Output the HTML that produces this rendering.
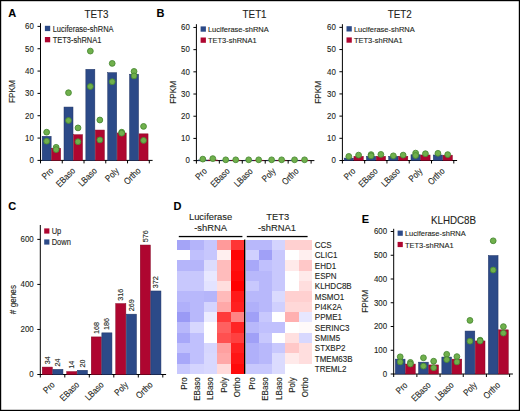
<!DOCTYPE html><html><head><meta charset="utf-8"><style>html,body{margin:0;padding:0;background:#fff;}svg{display:block;font-family:"Liberation Sans", sans-serif;} text{stroke:#231f20;stroke-width:0.12px;paint-order:stroke;}</style></head><body>
<svg width="520" height="411" viewBox="0 0 520 411">
<rect x="0" y="0" width="520" height="411" fill="#fff"/>
<text x="8.3" y="17" font-size="11.66" text-anchor="start" textLength="7.94" lengthAdjust="spacingAndGlyphs" font-weight="bold" fill="#000">A</text>
<text x="96.5" y="17.9" font-size="11.56" text-anchor="middle" textLength="23.96" lengthAdjust="spacingAndGlyphs" fill="#231f20">TET3</text>
<line x1="40.5" y1="23.2" x2="40.5" y2="160.9" stroke="#000" stroke-width="1"/>
<line x1="37.5" y1="160.4" x2="40.5" y2="160.4" stroke="#000" stroke-width="1"/>
<text x="33.9" y="163.2" font-size="9.32" text-anchor="end" textLength="4.39" lengthAdjust="spacingAndGlyphs" fill="#231f20">0</text>
<line x1="37.5" y1="138.07" x2="40.5" y2="138.07" stroke="#000" stroke-width="1"/>
<text x="33.9" y="140.87" font-size="9.32" text-anchor="end" textLength="8.79" lengthAdjust="spacingAndGlyphs" fill="#231f20">10</text>
<line x1="37.5" y1="115.73" x2="40.5" y2="115.73" stroke="#000" stroke-width="1"/>
<text x="33.9" y="118.53" font-size="9.32" text-anchor="end" textLength="8.79" lengthAdjust="spacingAndGlyphs" fill="#231f20">20</text>
<line x1="37.5" y1="93.4" x2="40.5" y2="93.4" stroke="#000" stroke-width="1"/>
<text x="33.9" y="96.2" font-size="9.32" text-anchor="end" textLength="8.79" lengthAdjust="spacingAndGlyphs" fill="#231f20">30</text>
<line x1="37.5" y1="71.07" x2="40.5" y2="71.07" stroke="#000" stroke-width="1"/>
<text x="33.9" y="73.87" font-size="9.32" text-anchor="end" textLength="8.79" lengthAdjust="spacingAndGlyphs" fill="#231f20">40</text>
<line x1="37.5" y1="48.74" x2="40.5" y2="48.74" stroke="#000" stroke-width="1"/>
<text x="33.9" y="51.54" font-size="9.32" text-anchor="end" textLength="8.79" lengthAdjust="spacingAndGlyphs" fill="#231f20">50</text>
<line x1="37.5" y1="26.4" x2="40.5" y2="26.4" stroke="#000" stroke-width="1"/>
<text x="33.9" y="29.2" font-size="9.32" text-anchor="end" textLength="8.79" lengthAdjust="spacingAndGlyphs" fill="#231f20">60</text>
<line x1="40" y1="160.4" x2="152.6" y2="160.4" stroke="#000" stroke-width="1"/>
<line x1="40.5" y1="160.4" x2="40.5" y2="163.4" stroke="#000" stroke-width="1"/>
<line x1="62.26" y1="160.4" x2="62.26" y2="163.4" stroke="#000" stroke-width="1"/>
<line x1="84.02" y1="160.4" x2="84.02" y2="163.4" stroke="#000" stroke-width="1"/>
<line x1="105.78" y1="160.4" x2="105.78" y2="163.4" stroke="#000" stroke-width="1"/>
<line x1="127.54" y1="160.4" x2="127.54" y2="163.4" stroke="#000" stroke-width="1"/>
<line x1="149.3" y1="160.4" x2="149.3" y2="163.4" stroke="#000" stroke-width="1"/>
<rect x="42.15" y="136.31" width="9" height="24.09" fill="#2c4a88" stroke="#1e3364" stroke-width="0.5"/>
<rect x="51.65" y="148.26" width="9" height="12.14" fill="#ae0630" stroke="#860522" stroke-width="0.5"/>
<rect x="64" y="107.05" width="9" height="53.35" fill="#2c4a88" stroke="#1e3364" stroke-width="0.5"/>
<rect x="73.5" y="134.74" width="9" height="25.66" fill="#ae0630" stroke="#860522" stroke-width="0.5"/>
<rect x="85.85" y="69.31" width="9" height="91.09" fill="#2c4a88" stroke="#1e3364" stroke-width="0.5"/>
<rect x="95.35" y="130.05" width="9" height="30.35" fill="#ae0630" stroke="#860522" stroke-width="0.5"/>
<rect x="107.7" y="72.66" width="9" height="87.74" fill="#2c4a88" stroke="#1e3364" stroke-width="0.5"/>
<rect x="117.2" y="132.96" width="9" height="27.44" fill="#ae0630" stroke="#860522" stroke-width="0.5"/>
<rect x="129.55" y="74.22" width="9" height="86.18" fill="#2c4a88" stroke="#1e3364" stroke-width="0.5"/>
<rect x="139.05" y="133.85" width="9" height="26.55" fill="#ae0630" stroke="#860522" stroke-width="0.5"/>
<circle cx="46.65" cy="132.2" r="2.9" fill="#70b04c" stroke="#4a8a34" stroke-width="0.9"/>
<circle cx="46.65" cy="141.2" r="2.9" fill="#70b04c" stroke="#4a8a34" stroke-width="0.9"/>
<circle cx="56.15" cy="147.3" r="2.9" fill="#70b04c" stroke="#4a8a34" stroke-width="0.9"/>
<circle cx="56.15" cy="149.6" r="2.9" fill="#70b04c" stroke="#4a8a34" stroke-width="0.9"/>
<circle cx="68.5" cy="92.7" r="2.9" fill="#70b04c" stroke="#4a8a34" stroke-width="0.9"/>
<circle cx="68.5" cy="120.5" r="2.9" fill="#70b04c" stroke="#4a8a34" stroke-width="0.9"/>
<circle cx="78" cy="127.9" r="2.9" fill="#70b04c" stroke="#4a8a34" stroke-width="0.9"/>
<circle cx="78" cy="141.7" r="2.9" fill="#70b04c" stroke="#4a8a34" stroke-width="0.9"/>
<circle cx="90.35" cy="51.1" r="2.9" fill="#70b04c" stroke="#4a8a34" stroke-width="0.9"/>
<circle cx="90.35" cy="86.5" r="2.9" fill="#70b04c" stroke="#4a8a34" stroke-width="0.9"/>
<circle cx="99.85" cy="120" r="2.9" fill="#70b04c" stroke="#4a8a34" stroke-width="0.9"/>
<circle cx="99.85" cy="139.9" r="2.9" fill="#70b04c" stroke="#4a8a34" stroke-width="0.9"/>
<circle cx="112.2" cy="63.4" r="2.9" fill="#70b04c" stroke="#4a8a34" stroke-width="0.9"/>
<circle cx="112.2" cy="81.7" r="2.9" fill="#70b04c" stroke="#4a8a34" stroke-width="0.9"/>
<circle cx="121.7" cy="132.2" r="2.9" fill="#70b04c" stroke="#4a8a34" stroke-width="0.9"/>
<circle cx="121.7" cy="133.2" r="2.9" fill="#70b04c" stroke="#4a8a34" stroke-width="0.9"/>
<circle cx="134.05" cy="71.4" r="2.9" fill="#70b04c" stroke="#4a8a34" stroke-width="0.9"/>
<circle cx="134.05" cy="75.9" r="2.9" fill="#70b04c" stroke="#4a8a34" stroke-width="0.9"/>
<circle cx="143.55" cy="126.4" r="2.9" fill="#70b04c" stroke="#4a8a34" stroke-width="0.9"/>
<circle cx="143.55" cy="140.4" r="2.9" fill="#70b04c" stroke="#4a8a34" stroke-width="0.9"/>
<rect x="44.9" y="25.8" width="5.3" height="5.3" fill="#2c4a88"/>
<text x="52.7" y="31.5" font-size="8.47" text-anchor="start" textLength="60.86" lengthAdjust="spacingAndGlyphs" fill="#231f20">Luciferase-shRNA</text>
<rect x="44.9" y="37" width="5.3" height="5.3" fill="#ae0630"/>
<text x="52.7" y="42.7" font-size="8.47" text-anchor="start" textLength="48.76" lengthAdjust="spacingAndGlyphs" fill="#231f20">TET3-shRNA1</text>
<text x="14.6" y="91.6" font-size="9.68" text-anchor="middle" textLength="22.78" lengthAdjust="spacingAndGlyphs" transform="rotate(-90 14.6 91.6)" fill="#231f20">FPKM</text>
<text x="54.18" y="171.4" font-size="9.2" text-anchor="end" textLength="12.14" lengthAdjust="spacingAndGlyphs" transform="rotate(-45 54.18 171.4)" fill="#231f20">Pro</text>
<text x="75.94" y="171.4" font-size="9.2" text-anchor="end" textLength="22.98" lengthAdjust="spacingAndGlyphs" transform="rotate(-45 75.94 171.4)" fill="#231f20">EBaso</text>
<text x="97.7" y="171.4" font-size="9.2" text-anchor="end" textLength="22.12" lengthAdjust="spacingAndGlyphs" transform="rotate(-45 97.7 171.4)" fill="#231f20">LBaso</text>
<text x="119.46" y="171.4" font-size="9.2" text-anchor="end" textLength="15.17" lengthAdjust="spacingAndGlyphs" transform="rotate(-45 119.46 171.4)" fill="#231f20">Poly</text>
<text x="141.22" y="171.4" font-size="9.2" text-anchor="end" textLength="19.51" lengthAdjust="spacingAndGlyphs" transform="rotate(-45 141.22 171.4)" fill="#231f20">Ortho</text>
<text x="156.4" y="17" font-size="11.66" text-anchor="start" textLength="7.94" lengthAdjust="spacingAndGlyphs" font-weight="bold" fill="#000">B</text>
<text x="254.6" y="17.7" font-size="11.56" text-anchor="middle" textLength="23.96" lengthAdjust="spacingAndGlyphs" fill="#231f20">TET1</text>
<line x1="196.4" y1="24.2" x2="196.4" y2="161.1" stroke="#000" stroke-width="1"/>
<line x1="193.4" y1="160.6" x2="196.4" y2="160.6" stroke="#000" stroke-width="1"/>
<text x="189.8" y="163.4" font-size="9.32" text-anchor="end" textLength="4.39" lengthAdjust="spacingAndGlyphs" fill="#231f20">0</text>
<line x1="193.4" y1="138.41" x2="196.4" y2="138.41" stroke="#000" stroke-width="1"/>
<text x="189.8" y="141.21" font-size="9.32" text-anchor="end" textLength="8.79" lengthAdjust="spacingAndGlyphs" fill="#231f20">10</text>
<line x1="193.4" y1="116.22" x2="196.4" y2="116.22" stroke="#000" stroke-width="1"/>
<text x="189.8" y="119.02" font-size="9.32" text-anchor="end" textLength="8.79" lengthAdjust="spacingAndGlyphs" fill="#231f20">20</text>
<line x1="193.4" y1="94.03" x2="196.4" y2="94.03" stroke="#000" stroke-width="1"/>
<text x="189.8" y="96.83" font-size="9.32" text-anchor="end" textLength="8.79" lengthAdjust="spacingAndGlyphs" fill="#231f20">30</text>
<line x1="193.4" y1="71.84" x2="196.4" y2="71.84" stroke="#000" stroke-width="1"/>
<text x="189.8" y="74.64" font-size="9.32" text-anchor="end" textLength="8.79" lengthAdjust="spacingAndGlyphs" fill="#231f20">40</text>
<line x1="193.4" y1="49.65" x2="196.4" y2="49.65" stroke="#000" stroke-width="1"/>
<text x="189.8" y="52.45" font-size="9.32" text-anchor="end" textLength="8.79" lengthAdjust="spacingAndGlyphs" fill="#231f20">50</text>
<line x1="193.4" y1="27.46" x2="196.4" y2="27.46" stroke="#000" stroke-width="1"/>
<text x="189.8" y="30.26" font-size="9.32" text-anchor="end" textLength="8.79" lengthAdjust="spacingAndGlyphs" fill="#231f20">60</text>
<line x1="195.9" y1="160.6" x2="314.4" y2="160.6" stroke="#000" stroke-width="1"/>
<line x1="196.4" y1="160.6" x2="196.4" y2="163.6" stroke="#000" stroke-width="1"/>
<line x1="219.34" y1="160.6" x2="219.34" y2="163.6" stroke="#000" stroke-width="1"/>
<line x1="242.28" y1="160.6" x2="242.28" y2="163.6" stroke="#000" stroke-width="1"/>
<line x1="265.22" y1="160.6" x2="265.22" y2="163.6" stroke="#000" stroke-width="1"/>
<line x1="288.16" y1="160.6" x2="288.16" y2="163.6" stroke="#000" stroke-width="1"/>
<line x1="311.1" y1="160.6" x2="311.1" y2="163.6" stroke="#000" stroke-width="1"/>
<rect x="198.05" y="159.96" width="9.5" height="0.64" fill="#2c4a88" stroke="#1e3364" stroke-width="0.5"/>
<rect x="208.05" y="159.96" width="9.5" height="0.64" fill="#ae0630" stroke="#860522" stroke-width="0.5"/>
<rect x="220.99" y="160.18" width="9.5" height="0.42" fill="#2c4a88" stroke="#1e3364" stroke-width="0.5"/>
<rect x="230.99" y="160.18" width="9.5" height="0.42" fill="#ae0630" stroke="#860522" stroke-width="0.5"/>
<rect x="243.93" y="160.18" width="9.5" height="0.42" fill="#2c4a88" stroke="#1e3364" stroke-width="0.5"/>
<rect x="253.93" y="160.18" width="9.5" height="0.42" fill="#ae0630" stroke="#860522" stroke-width="0.5"/>
<rect x="266.87" y="160.18" width="9.5" height="0.42" fill="#2c4a88" stroke="#1e3364" stroke-width="0.5"/>
<rect x="276.87" y="160.18" width="9.5" height="0.42" fill="#ae0630" stroke="#860522" stroke-width="0.5"/>
<rect x="289.81" y="160.18" width="9.5" height="0.42" fill="#2c4a88" stroke="#1e3364" stroke-width="0.5"/>
<rect x="299.81" y="160.18" width="9.5" height="0.42" fill="#ae0630" stroke="#860522" stroke-width="0.5"/>
<circle cx="202.8" cy="159.1" r="2.9" fill="#70b04c" stroke="#4a8a34" stroke-width="0.9"/>
<circle cx="212.8" cy="158.6" r="2.9" fill="#70b04c" stroke="#4a8a34" stroke-width="0.9"/>
<circle cx="225.74" cy="159.8" r="2.9" fill="#70b04c" stroke="#4a8a34" stroke-width="0.9"/>
<circle cx="235.74" cy="159.8" r="2.9" fill="#70b04c" stroke="#4a8a34" stroke-width="0.9"/>
<circle cx="248.68" cy="159.8" r="2.9" fill="#70b04c" stroke="#4a8a34" stroke-width="0.9"/>
<circle cx="258.68" cy="159.8" r="2.9" fill="#70b04c" stroke="#4a8a34" stroke-width="0.9"/>
<circle cx="271.62" cy="159.8" r="2.9" fill="#70b04c" stroke="#4a8a34" stroke-width="0.9"/>
<circle cx="281.62" cy="159.8" r="2.9" fill="#70b04c" stroke="#4a8a34" stroke-width="0.9"/>
<circle cx="294.56" cy="159.8" r="2.9" fill="#70b04c" stroke="#4a8a34" stroke-width="0.9"/>
<circle cx="304.56" cy="159.8" r="2.9" fill="#70b04c" stroke="#4a8a34" stroke-width="0.9"/>
<rect x="200.6" y="26.4" width="5.3" height="5.3" fill="#2c4a88"/>
<text x="207.9" y="32.1" font-size="7.65" text-anchor="start" textLength="60.86" lengthAdjust="spacingAndGlyphs" fill="#231f20">Luciferase-shRNA</text>
<rect x="200.6" y="37.5" width="5.3" height="5.3" fill="#ae0630"/>
<text x="207.9" y="43.2" font-size="7.65" text-anchor="start" textLength="48.76" lengthAdjust="spacingAndGlyphs" fill="#231f20">TET3-shRNA1</text>
<text x="175.6" y="92.3" font-size="9.68" text-anchor="middle" textLength="22.78" lengthAdjust="spacingAndGlyphs" transform="rotate(-90 175.6 92.3)" fill="#231f20">FPKM</text>
<text x="207.47" y="171.8" font-size="9.2" text-anchor="end" textLength="12.14" lengthAdjust="spacingAndGlyphs" transform="rotate(-45 207.47 171.8)" fill="#231f20">Pro</text>
<text x="230.41" y="171.8" font-size="9.2" text-anchor="end" textLength="22.98" lengthAdjust="spacingAndGlyphs" transform="rotate(-45 230.41 171.8)" fill="#231f20">EBaso</text>
<text x="253.35" y="171.8" font-size="9.2" text-anchor="end" textLength="22.12" lengthAdjust="spacingAndGlyphs" transform="rotate(-45 253.35 171.8)" fill="#231f20">LBaso</text>
<text x="276.29" y="171.8" font-size="9.2" text-anchor="end" textLength="15.17" lengthAdjust="spacingAndGlyphs" transform="rotate(-45 276.29 171.8)" fill="#231f20">Poly</text>
<text x="299.23" y="171.8" font-size="9.2" text-anchor="end" textLength="19.51" lengthAdjust="spacingAndGlyphs" transform="rotate(-45 299.23 171.8)" fill="#231f20">Ortho</text>
<text x="399.8" y="18" font-size="11.56" text-anchor="middle" textLength="23.96" lengthAdjust="spacingAndGlyphs" fill="#231f20">TET2</text>
<line x1="342.4" y1="24.2" x2="342.4" y2="161" stroke="#000" stroke-width="1"/>
<line x1="339.4" y1="160.5" x2="342.4" y2="160.5" stroke="#000" stroke-width="1"/>
<text x="335.8" y="163.3" font-size="9.32" text-anchor="end" textLength="4.39" lengthAdjust="spacingAndGlyphs" fill="#231f20">0</text>
<line x1="339.4" y1="138.31" x2="342.4" y2="138.31" stroke="#000" stroke-width="1"/>
<text x="335.8" y="141.11" font-size="9.32" text-anchor="end" textLength="8.79" lengthAdjust="spacingAndGlyphs" fill="#231f20">10</text>
<line x1="339.4" y1="116.12" x2="342.4" y2="116.12" stroke="#000" stroke-width="1"/>
<text x="335.8" y="118.92" font-size="9.32" text-anchor="end" textLength="8.79" lengthAdjust="spacingAndGlyphs" fill="#231f20">20</text>
<line x1="339.4" y1="93.93" x2="342.4" y2="93.93" stroke="#000" stroke-width="1"/>
<text x="335.8" y="96.73" font-size="9.32" text-anchor="end" textLength="8.79" lengthAdjust="spacingAndGlyphs" fill="#231f20">30</text>
<line x1="339.4" y1="71.74" x2="342.4" y2="71.74" stroke="#000" stroke-width="1"/>
<text x="335.8" y="74.54" font-size="9.32" text-anchor="end" textLength="8.79" lengthAdjust="spacingAndGlyphs" fill="#231f20">40</text>
<line x1="339.4" y1="49.55" x2="342.4" y2="49.55" stroke="#000" stroke-width="1"/>
<text x="335.8" y="52.35" font-size="9.32" text-anchor="end" textLength="8.79" lengthAdjust="spacingAndGlyphs" fill="#231f20">50</text>
<line x1="339.4" y1="27.36" x2="342.4" y2="27.36" stroke="#000" stroke-width="1"/>
<text x="335.8" y="30.16" font-size="9.32" text-anchor="end" textLength="8.79" lengthAdjust="spacingAndGlyphs" fill="#231f20">60</text>
<line x1="341.9" y1="160.5" x2="457.1" y2="160.5" stroke="#000" stroke-width="1"/>
<line x1="342.4" y1="160.5" x2="342.4" y2="163.5" stroke="#000" stroke-width="1"/>
<line x1="364.68" y1="160.5" x2="364.68" y2="163.5" stroke="#000" stroke-width="1"/>
<line x1="386.96" y1="160.5" x2="386.96" y2="163.5" stroke="#000" stroke-width="1"/>
<line x1="409.24" y1="160.5" x2="409.24" y2="163.5" stroke="#000" stroke-width="1"/>
<line x1="431.52" y1="160.5" x2="431.52" y2="163.5" stroke="#000" stroke-width="1"/>
<line x1="453.8" y1="160.5" x2="453.8" y2="163.5" stroke="#000" stroke-width="1"/>
<rect x="344.15" y="158.09" width="9.3" height="2.41" fill="#2c4a88" stroke="#1e3364" stroke-width="0.5"/>
<rect x="353.95" y="156.31" width="9.3" height="4.19" fill="#ae0630" stroke="#860522" stroke-width="0.5"/>
<rect x="366.43" y="156.31" width="9.3" height="4.19" fill="#2c4a88" stroke="#1e3364" stroke-width="0.5"/>
<rect x="376.23" y="156.31" width="9.3" height="4.19" fill="#ae0630" stroke="#860522" stroke-width="0.5"/>
<rect x="388.71" y="156.31" width="9.3" height="4.19" fill="#2c4a88" stroke="#1e3364" stroke-width="0.5"/>
<rect x="398.51" y="156.31" width="9.3" height="4.19" fill="#ae0630" stroke="#860522" stroke-width="0.5"/>
<rect x="410.99" y="154.76" width="9.3" height="5.74" fill="#2c4a88" stroke="#1e3364" stroke-width="0.5"/>
<rect x="420.79" y="154.98" width="9.3" height="5.52" fill="#ae0630" stroke="#860522" stroke-width="0.5"/>
<rect x="433.27" y="154.98" width="9.3" height="5.52" fill="#2c4a88" stroke="#1e3364" stroke-width="0.5"/>
<rect x="443.07" y="155.2" width="9.3" height="5.3" fill="#ae0630" stroke="#860522" stroke-width="0.5"/>
<circle cx="348.8" cy="156.4" r="2.9" fill="#70b04c" stroke="#4a8a34" stroke-width="0.9"/>
<circle cx="358.6" cy="155.1" r="2.9" fill="#70b04c" stroke="#4a8a34" stroke-width="0.9"/>
<circle cx="371.08" cy="154.6" r="2.9" fill="#70b04c" stroke="#4a8a34" stroke-width="0.9"/>
<circle cx="371.08" cy="155.8" r="2.9" fill="#70b04c" stroke="#4a8a34" stroke-width="0.9"/>
<circle cx="380.88" cy="154.4" r="2.9" fill="#70b04c" stroke="#4a8a34" stroke-width="0.9"/>
<circle cx="393.36" cy="155.8" r="2.9" fill="#70b04c" stroke="#4a8a34" stroke-width="0.9"/>
<circle cx="403.16" cy="155.1" r="2.9" fill="#70b04c" stroke="#4a8a34" stroke-width="0.9"/>
<circle cx="415.64" cy="153.1" r="2.9" fill="#70b04c" stroke="#4a8a34" stroke-width="0.9"/>
<circle cx="415.64" cy="155.5" r="2.9" fill="#70b04c" stroke="#4a8a34" stroke-width="0.9"/>
<circle cx="425.44" cy="153.7" r="2.9" fill="#70b04c" stroke="#4a8a34" stroke-width="0.9"/>
<circle cx="437.92" cy="153.3" r="2.9" fill="#70b04c" stroke="#4a8a34" stroke-width="0.9"/>
<circle cx="447.72" cy="154.6" r="2.9" fill="#70b04c" stroke="#4a8a34" stroke-width="0.9"/>
<rect x="346.5" y="26.2" width="5.3" height="5.3" fill="#2c4a88"/>
<text x="353.9" y="31.9" font-size="7.88" text-anchor="start" textLength="60.86" lengthAdjust="spacingAndGlyphs" fill="#231f20">Luciferase-shRNA</text>
<rect x="346.5" y="37.4" width="5.3" height="5.3" fill="#ae0630"/>
<text x="353.9" y="43.1" font-size="7.88" text-anchor="start" textLength="48.76" lengthAdjust="spacingAndGlyphs" fill="#231f20">TET3-shRNA1</text>
<text x="321.2" y="92.3" font-size="9.68" text-anchor="middle" textLength="22.78" lengthAdjust="spacingAndGlyphs" transform="rotate(-90 321.2 92.3)" fill="#231f20">FPKM</text>
<text x="356.14" y="171.8" font-size="9.2" text-anchor="end" textLength="12.14" lengthAdjust="spacingAndGlyphs" transform="rotate(-45 356.14 171.8)" fill="#231f20">Pro</text>
<text x="378.42" y="171.8" font-size="9.2" text-anchor="end" textLength="22.98" lengthAdjust="spacingAndGlyphs" transform="rotate(-45 378.42 171.8)" fill="#231f20">EBaso</text>
<text x="400.7" y="171.8" font-size="9.2" text-anchor="end" textLength="22.12" lengthAdjust="spacingAndGlyphs" transform="rotate(-45 400.7 171.8)" fill="#231f20">LBaso</text>
<text x="422.98" y="171.8" font-size="9.2" text-anchor="end" textLength="15.17" lengthAdjust="spacingAndGlyphs" transform="rotate(-45 422.98 171.8)" fill="#231f20">Poly</text>
<text x="445.26" y="171.8" font-size="9.2" text-anchor="end" textLength="19.51" lengthAdjust="spacingAndGlyphs" transform="rotate(-45 445.26 171.8)" fill="#231f20">Ortho</text>
<text x="8.3" y="209.5" font-size="11.66" text-anchor="start" textLength="7.94" lengthAdjust="spacingAndGlyphs" font-weight="bold" fill="#000">C</text>
<line x1="40.3" y1="225" x2="40.3" y2="375" stroke="#000" stroke-width="1"/>
<line x1="37.3" y1="374.5" x2="40.3" y2="374.5" stroke="#000" stroke-width="1"/>
<text x="33.7" y="377.3" font-size="9.32" text-anchor="end" textLength="4.39" lengthAdjust="spacingAndGlyphs" fill="#231f20">0</text>
<line x1="37.3" y1="329.46" x2="40.3" y2="329.46" stroke="#000" stroke-width="1"/>
<text x="33.7" y="332.26" font-size="9.32" text-anchor="end" textLength="13.18" lengthAdjust="spacingAndGlyphs" fill="#231f20">200</text>
<line x1="37.3" y1="284.42" x2="40.3" y2="284.42" stroke="#000" stroke-width="1"/>
<text x="33.7" y="287.22" font-size="9.32" text-anchor="end" textLength="13.18" lengthAdjust="spacingAndGlyphs" fill="#231f20">400</text>
<line x1="37.3" y1="239.38" x2="40.3" y2="239.38" stroke="#000" stroke-width="1"/>
<text x="33.7" y="242.18" font-size="9.32" text-anchor="end" textLength="13.18" lengthAdjust="spacingAndGlyphs" fill="#231f20">600</text>
<line x1="39.8" y1="374.5" x2="166.1" y2="374.5" stroke="#000" stroke-width="1"/>
<line x1="40.3" y1="374.5" x2="40.3" y2="377.5" stroke="#000" stroke-width="1"/>
<line x1="64.8" y1="374.5" x2="64.8" y2="377.5" stroke="#000" stroke-width="1"/>
<line x1="89.3" y1="374.5" x2="89.3" y2="377.5" stroke="#000" stroke-width="1"/>
<line x1="113.8" y1="374.5" x2="113.8" y2="377.5" stroke="#000" stroke-width="1"/>
<line x1="138.3" y1="374.5" x2="138.3" y2="377.5" stroke="#000" stroke-width="1"/>
<line x1="162.8" y1="374.5" x2="162.8" y2="377.5" stroke="#000" stroke-width="1"/>
<rect x="42.25" y="367.09" width="10.1" height="7.41" fill="#ae0630" stroke="#860522" stroke-width="0.5"/>
<rect x="52.85" y="369.35" width="10.1" height="5.15" fill="#2c4a88" stroke="#1e3364" stroke-width="0.5"/>
<text x="49.8" y="364.24" font-size="7.2" text-anchor="start" textLength="8.01" lengthAdjust="spacingAndGlyphs" transform="rotate(-90 49.8 364.24)" fill="#231f20">34</text>
<text x="60.4" y="366.5" font-size="7.2" text-anchor="start" textLength="8.01" lengthAdjust="spacingAndGlyphs" transform="rotate(-90 60.4 366.5)" fill="#231f20">24</text>
<rect x="66.75" y="371.6" width="10.1" height="2.9" fill="#ae0630" stroke="#860522" stroke-width="0.5"/>
<rect x="77.35" y="370.25" width="10.1" height="4.25" fill="#2c4a88" stroke="#1e3364" stroke-width="0.5"/>
<text x="74.3" y="368.75" font-size="7.2" text-anchor="start" textLength="8.01" lengthAdjust="spacingAndGlyphs" transform="rotate(-90 74.3 368.75)" fill="#231f20">14</text>
<text x="84.9" y="367.4" font-size="7.2" text-anchor="start" textLength="8.01" lengthAdjust="spacingAndGlyphs" transform="rotate(-90 84.9 367.4)" fill="#231f20">20</text>
<rect x="91.25" y="336.92" width="10.1" height="37.58" fill="#ae0630" stroke="#860522" stroke-width="0.5"/>
<rect x="101.85" y="332.86" width="10.1" height="41.64" fill="#2c4a88" stroke="#1e3364" stroke-width="0.5"/>
<text x="98.8" y="334.07" font-size="7.2" text-anchor="start" textLength="12.01" lengthAdjust="spacingAndGlyphs" transform="rotate(-90 98.8 334.07)" fill="#231f20">168</text>
<text x="109.4" y="330.01" font-size="7.2" text-anchor="start" textLength="12.01" lengthAdjust="spacingAndGlyphs" transform="rotate(-90 109.4 330.01)" fill="#231f20">186</text>
<rect x="115.75" y="303.59" width="10.1" height="70.91" fill="#ae0630" stroke="#860522" stroke-width="0.5"/>
<rect x="126.35" y="314.17" width="10.1" height="60.33" fill="#2c4a88" stroke="#1e3364" stroke-width="0.5"/>
<text x="123.3" y="300.74" font-size="7.2" text-anchor="start" textLength="12.01" lengthAdjust="spacingAndGlyphs" transform="rotate(-90 123.3 300.74)" fill="#231f20">316</text>
<text x="133.9" y="311.32" font-size="7.2" text-anchor="start" textLength="12.01" lengthAdjust="spacingAndGlyphs" transform="rotate(-90 133.9 311.32)" fill="#231f20">269</text>
<rect x="140.25" y="245.03" width="10.1" height="129.47" fill="#ae0630" stroke="#860522" stroke-width="0.5"/>
<rect x="150.85" y="290.98" width="10.1" height="83.52" fill="#2c4a88" stroke="#1e3364" stroke-width="0.5"/>
<text x="147.8" y="242.18" font-size="7.2" text-anchor="start" textLength="12.01" lengthAdjust="spacingAndGlyphs" transform="rotate(-90 147.8 242.18)" fill="#231f20">576</text>
<text x="158.4" y="288.13" font-size="7.2" text-anchor="start" textLength="12.01" lengthAdjust="spacingAndGlyphs" transform="rotate(-90 158.4 288.13)" fill="#231f20">372</text>
<rect x="44.2" y="228.4" width="5.2" height="5.2" fill="#ae0630"/>
<text x="51.7" y="234.1" font-size="8.85" text-anchor="start" textLength="9.59" lengthAdjust="spacingAndGlyphs" fill="#231f20">Up</text>
<rect x="44.2" y="239.4" width="5.2" height="5.2" fill="#2c4a88"/>
<text x="51.7" y="245.1" font-size="8.85" text-anchor="start" textLength="19.18" lengthAdjust="spacingAndGlyphs" fill="#231f20">Down</text>
<text x="15.8" y="299.6" font-size="9.68" text-anchor="middle" textLength="29.18" lengthAdjust="spacingAndGlyphs" transform="rotate(-90 15.8 299.6)" fill="#231f20"># genes</text>
<text x="55.35" y="385.4" font-size="9.2" text-anchor="end" textLength="12.14" lengthAdjust="spacingAndGlyphs" transform="rotate(-45 55.35 385.4)" fill="#231f20">Pro</text>
<text x="79.85" y="385.4" font-size="9.2" text-anchor="end" textLength="22.98" lengthAdjust="spacingAndGlyphs" transform="rotate(-45 79.85 385.4)" fill="#231f20">EBaso</text>
<text x="104.35" y="385.4" font-size="9.2" text-anchor="end" textLength="22.12" lengthAdjust="spacingAndGlyphs" transform="rotate(-45 104.35 385.4)" fill="#231f20">LBaso</text>
<text x="128.85" y="385.4" font-size="9.2" text-anchor="end" textLength="15.17" lengthAdjust="spacingAndGlyphs" transform="rotate(-45 128.85 385.4)" fill="#231f20">Poly</text>
<text x="153.35" y="385.4" font-size="9.2" text-anchor="end" textLength="19.51" lengthAdjust="spacingAndGlyphs" transform="rotate(-45 153.35 385.4)" fill="#231f20">Ortho</text>
<text x="173.5" y="209.5" font-size="11.66" text-anchor="start" textLength="7.94" lengthAdjust="spacingAndGlyphs" font-weight="bold" fill="#000">D</text>
<text x="210.6" y="220.3" font-size="9.96" text-anchor="middle" textLength="43.37" lengthAdjust="spacingAndGlyphs" fill="#231f20">Luciferase</text>
<text x="210.6" y="231.4" font-size="9.96" text-anchor="middle" textLength="32.91" lengthAdjust="spacingAndGlyphs" fill="#231f20">-shRNA</text>
<text x="277.7" y="220.3" font-size="9.96" text-anchor="middle" textLength="22.98" lengthAdjust="spacingAndGlyphs" fill="#231f20">TET3</text>
<text x="277" y="231.4" font-size="9.96" text-anchor="middle" textLength="38.13" lengthAdjust="spacingAndGlyphs" fill="#231f20">-shRNA1</text>
<rect x="178.8" y="235.9" width="63.6" height="1.3" fill="#000"/>
<rect x="246.8" y="235.9" width="60.8" height="1.3" fill="#000"/>
<g shape-rendering="crispEdges">
<rect x="176.9" y="239.6" width="13.49" height="10.38" fill="#a4a4f7"/>
<rect x="245.5" y="239.6" width="13.35" height="10.38" fill="#b8b8fb"/>
<rect x="190.34" y="239.6" width="13.49" height="10.38" fill="#b4b4fa"/>
<rect x="258.8" y="239.6" width="13.35" height="10.38" fill="#b8b8fb"/>
<rect x="203.78" y="239.6" width="13.49" height="10.38" fill="#c6c6fd"/>
<rect x="272.1" y="239.6" width="13.35" height="10.38" fill="#d4d4fe"/>
<rect x="217.22" y="239.6" width="13.49" height="10.38" fill="#ff9a9a"/>
<rect x="285.4" y="239.6" width="13.35" height="10.38" fill="#ffd0d0"/>
<rect x="230.66" y="239.6" width="13.49" height="10.38" fill="#ff3535"/>
<rect x="298.7" y="239.6" width="13.35" height="10.38" fill="#ffd0d0"/>
<rect x="176.9" y="249.93" width="13.49" height="10.38" fill="#ffffff"/>
<rect x="245.5" y="249.93" width="13.35" height="10.38" fill="#d0d0fe"/>
<rect x="190.34" y="249.93" width="13.49" height="10.38" fill="#c0c0fd"/>
<rect x="258.8" y="249.93" width="13.35" height="10.38" fill="#a0a0f7"/>
<rect x="203.78" y="249.93" width="13.49" height="10.38" fill="#c7c7fd"/>
<rect x="272.1" y="249.93" width="13.35" height="10.38" fill="#c8c8fd"/>
<rect x="217.22" y="249.93" width="13.49" height="10.38" fill="#ffefef"/>
<rect x="285.4" y="249.93" width="13.35" height="10.38" fill="#ffffff"/>
<rect x="230.66" y="249.93" width="13.49" height="10.38" fill="#ff0505"/>
<rect x="298.7" y="249.93" width="13.35" height="10.38" fill="#ffefef"/>
<rect x="176.9" y="260.26" width="13.49" height="10.38" fill="#b5b5fa"/>
<rect x="245.5" y="260.26" width="13.35" height="10.38" fill="#a8a8f9"/>
<rect x="190.34" y="260.26" width="13.49" height="10.38" fill="#b5b5fa"/>
<rect x="258.8" y="260.26" width="13.35" height="10.38" fill="#c0c0fd"/>
<rect x="203.78" y="260.26" width="13.49" height="10.38" fill="#dcdcfd"/>
<rect x="272.1" y="260.26" width="13.35" height="10.38" fill="#c8c8fd"/>
<rect x="217.22" y="260.26" width="13.49" height="10.38" fill="#ffbcbc"/>
<rect x="285.4" y="260.26" width="13.35" height="10.38" fill="#ffeaea"/>
<rect x="230.66" y="260.26" width="13.49" height="10.38" fill="#ff1010"/>
<rect x="298.7" y="260.26" width="13.35" height="10.38" fill="#ffc8c8"/>
<rect x="176.9" y="270.59" width="13.49" height="10.38" fill="#c8c8fd"/>
<rect x="245.5" y="270.59" width="13.35" height="10.38" fill="#b8b8fb"/>
<rect x="190.34" y="270.59" width="13.49" height="10.38" fill="#c8c8fd"/>
<rect x="258.8" y="270.59" width="13.35" height="10.38" fill="#b8b8fb"/>
<rect x="203.78" y="270.59" width="13.49" height="10.38" fill="#e8e8ff"/>
<rect x="272.1" y="270.59" width="13.35" height="10.38" fill="#c8c8fd"/>
<rect x="217.22" y="270.59" width="13.49" height="10.38" fill="#ffbcbc"/>
<rect x="285.4" y="270.59" width="13.35" height="10.38" fill="#ffffff"/>
<rect x="230.66" y="270.59" width="13.49" height="10.38" fill="#ff0a0a"/>
<rect x="298.7" y="270.59" width="13.35" height="10.38" fill="#ffeaea"/>
<rect x="176.9" y="280.92" width="13.49" height="10.38" fill="#c8c8fd"/>
<rect x="245.5" y="280.92" width="13.35" height="10.38" fill="#c8c8fd"/>
<rect x="190.34" y="280.92" width="13.49" height="10.38" fill="#c8c8fd"/>
<rect x="258.8" y="280.92" width="13.35" height="10.38" fill="#b8b8fb"/>
<rect x="203.78" y="280.92" width="13.49" height="10.38" fill="#e3e3ff"/>
<rect x="272.1" y="280.92" width="13.35" height="10.38" fill="#c8c8fd"/>
<rect x="217.22" y="280.92" width="13.49" height="10.38" fill="#ffdede"/>
<rect x="285.4" y="280.92" width="13.35" height="10.38" fill="#ffffff"/>
<rect x="230.66" y="280.92" width="13.49" height="10.38" fill="#ff0000"/>
<rect x="298.7" y="280.92" width="13.35" height="10.38" fill="#ffdede"/>
<rect x="176.9" y="291.25" width="13.49" height="10.38" fill="#b8b8fb"/>
<rect x="245.5" y="291.25" width="13.35" height="10.38" fill="#b8b8fb"/>
<rect x="190.34" y="291.25" width="13.49" height="10.38" fill="#b8b8fb"/>
<rect x="258.8" y="291.25" width="13.35" height="10.38" fill="#b8b8fb"/>
<rect x="203.78" y="291.25" width="13.49" height="10.38" fill="#b5b5fa"/>
<rect x="272.1" y="291.25" width="13.35" height="10.38" fill="#dadafe"/>
<rect x="217.22" y="291.25" width="13.49" height="10.38" fill="#ffbaba"/>
<rect x="285.4" y="291.25" width="13.35" height="10.38" fill="#ffd0d0"/>
<rect x="230.66" y="291.25" width="13.49" height="10.38" fill="#ff1a1a"/>
<rect x="298.7" y="291.25" width="13.35" height="10.38" fill="#ffd0d0"/>
<rect x="176.9" y="301.58" width="13.49" height="10.38" fill="#b0b0fa"/>
<rect x="245.5" y="301.58" width="13.35" height="10.38" fill="#b0b0fa"/>
<rect x="190.34" y="301.58" width="13.49" height="10.38" fill="#b8b8fb"/>
<rect x="258.8" y="301.58" width="13.35" height="10.38" fill="#b8b8fb"/>
<rect x="203.78" y="301.58" width="13.49" height="10.38" fill="#d4d4fe"/>
<rect x="272.1" y="301.58" width="13.35" height="10.38" fill="#d0d0fe"/>
<rect x="217.22" y="301.58" width="13.49" height="10.38" fill="#ffa8a8"/>
<rect x="285.4" y="301.58" width="13.35" height="10.38" fill="#ffd8d8"/>
<rect x="230.66" y="301.58" width="13.49" height="10.38" fill="#ff2020"/>
<rect x="298.7" y="301.58" width="13.35" height="10.38" fill="#ffd8d8"/>
<rect x="176.9" y="311.92" width="13.49" height="10.38" fill="#9a9af5"/>
<rect x="245.5" y="311.92" width="13.35" height="10.38" fill="#a0a0f7"/>
<rect x="190.34" y="311.92" width="13.49" height="10.38" fill="#b8b8fb"/>
<rect x="258.8" y="311.92" width="13.35" height="10.38" fill="#c8c8fd"/>
<rect x="203.78" y="311.92" width="13.49" height="10.38" fill="#ececff"/>
<rect x="272.1" y="311.92" width="13.35" height="10.38" fill="#ffffff"/>
<rect x="217.22" y="311.92" width="13.49" height="10.38" fill="#ff3a3a"/>
<rect x="285.4" y="311.92" width="13.35" height="10.38" fill="#ffb0b0"/>
<rect x="230.66" y="311.92" width="13.49" height="10.38" fill="#ff8484"/>
<rect x="298.7" y="311.92" width="13.35" height="10.38" fill="#e7e7ff"/>
<rect x="176.9" y="322.25" width="13.49" height="10.38" fill="#b8b8fb"/>
<rect x="245.5" y="322.25" width="13.35" height="10.38" fill="#b8b8fb"/>
<rect x="190.34" y="322.25" width="13.49" height="10.38" fill="#d7d7fe"/>
<rect x="258.8" y="322.25" width="13.35" height="10.38" fill="#c0c0fd"/>
<rect x="203.78" y="322.25" width="13.49" height="10.38" fill="#ffffff"/>
<rect x="272.1" y="322.25" width="13.35" height="10.38" fill="#c0c0fd"/>
<rect x="217.22" y="322.25" width="13.49" height="10.38" fill="#ff6060"/>
<rect x="285.4" y="322.25" width="13.35" height="10.38" fill="#ffffff"/>
<rect x="230.66" y="322.25" width="13.49" height="10.38" fill="#ff2525"/>
<rect x="298.7" y="322.25" width="13.35" height="10.38" fill="#fffafa"/>
<rect x="176.9" y="332.58" width="13.49" height="10.38" fill="#a8a8f9"/>
<rect x="245.5" y="332.58" width="13.35" height="10.38" fill="#a0a0f7"/>
<rect x="190.34" y="332.58" width="13.49" height="10.38" fill="#c0c0fd"/>
<rect x="258.8" y="332.58" width="13.35" height="10.38" fill="#c8c8fd"/>
<rect x="203.78" y="332.58" width="13.49" height="10.38" fill="#ffffff"/>
<rect x="272.1" y="332.58" width="13.35" height="10.38" fill="#ffffff"/>
<rect x="217.22" y="332.58" width="13.49" height="10.38" fill="#ff5050"/>
<rect x="285.4" y="332.58" width="13.35" height="10.38" fill="#ffe0e0"/>
<rect x="230.66" y="332.58" width="13.49" height="10.38" fill="#ff4040"/>
<rect x="298.7" y="332.58" width="13.35" height="10.38" fill="#d8d8fe"/>
<rect x="176.9" y="342.91" width="13.49" height="10.38" fill="#c0c0fd"/>
<rect x="245.5" y="342.91" width="13.35" height="10.38" fill="#b0b0fa"/>
<rect x="190.34" y="342.91" width="13.49" height="10.38" fill="#c0c0fd"/>
<rect x="258.8" y="342.91" width="13.35" height="10.38" fill="#b8b8fb"/>
<rect x="203.78" y="342.91" width="13.49" height="10.38" fill="#d6d6fe"/>
<rect x="272.1" y="342.91" width="13.35" height="10.38" fill="#c8c8fd"/>
<rect x="217.22" y="342.91" width="13.49" height="10.38" fill="#ffa0a0"/>
<rect x="285.4" y="342.91" width="13.35" height="10.38" fill="#ffc8c8"/>
<rect x="230.66" y="342.91" width="13.49" height="10.38" fill="#ff2020"/>
<rect x="298.7" y="342.91" width="13.35" height="10.38" fill="#ffdede"/>
<rect x="176.9" y="353.24" width="13.49" height="10.38" fill="#a8a8f9"/>
<rect x="245.5" y="353.24" width="13.35" height="10.38" fill="#b0b0fa"/>
<rect x="190.34" y="353.24" width="13.49" height="10.38" fill="#c0c0fd"/>
<rect x="258.8" y="353.24" width="13.35" height="10.38" fill="#b8b8fb"/>
<rect x="203.78" y="353.24" width="13.49" height="10.38" fill="#d8d8fe"/>
<rect x="272.1" y="353.24" width="13.35" height="10.38" fill="#dbdbfe"/>
<rect x="217.22" y="353.24" width="13.49" height="10.38" fill="#ffa8a8"/>
<rect x="285.4" y="353.24" width="13.35" height="10.38" fill="#ffeaea"/>
<rect x="230.66" y="353.24" width="13.49" height="10.38" fill="#ff1515"/>
<rect x="298.7" y="353.24" width="13.35" height="10.38" fill="#ffdede"/>
<rect x="176.9" y="363.57" width="13.49" height="10.38" fill="#c8c8fd"/>
<rect x="245.5" y="363.57" width="13.35" height="10.38" fill="#c8c8fd"/>
<rect x="190.34" y="363.57" width="13.49" height="10.38" fill="#d4d4fe"/>
<rect x="258.8" y="363.57" width="13.35" height="10.38" fill="#c8c8fd"/>
<rect x="203.78" y="363.57" width="13.49" height="10.38" fill="#d8d8fe"/>
<rect x="272.1" y="363.57" width="13.35" height="10.38" fill="#dbdbfe"/>
<rect x="217.22" y="363.57" width="13.49" height="10.38" fill="#ffdada"/>
<rect x="285.4" y="363.57" width="13.35" height="10.38" fill="#ffffff"/>
<rect x="230.66" y="363.57" width="13.49" height="10.38" fill="#ff0a0a"/>
<rect x="298.7" y="363.57" width="13.35" height="10.38" fill="#ffffff"/>
</g>
<rect x="244" y="239.6" width="1.4" height="134.3" fill="#000"/>
<text x="314.8" y="247.97" font-size="9.44" text-anchor="start" textLength="16.89" lengthAdjust="spacingAndGlyphs" fill="#231f20">CCS</text>
<text x="314.8" y="258.3" font-size="9.44" text-anchor="start" textLength="22.68" lengthAdjust="spacingAndGlyphs" fill="#231f20">CLIC1</text>
<text x="314.8" y="268.63" font-size="9.44" text-anchor="start" textLength="21.34" lengthAdjust="spacingAndGlyphs" fill="#231f20">EHD1</text>
<text x="314.8" y="278.96" font-size="9.44" text-anchor="start" textLength="21.79" lengthAdjust="spacingAndGlyphs" fill="#231f20">ESPN</text>
<text x="314.8" y="289.29" font-size="9.44" text-anchor="start" textLength="36.9" lengthAdjust="spacingAndGlyphs" fill="#231f20">KLHDC8B</text>
<text x="314.8" y="299.62" font-size="9.44" text-anchor="start" textLength="29.34" lengthAdjust="spacingAndGlyphs" fill="#231f20">MSMO1</text>
<text x="314.8" y="309.95" font-size="9.44" text-anchor="start" textLength="27.13" lengthAdjust="spacingAndGlyphs" fill="#231f20">PI4K2A</text>
<text x="314.8" y="320.28" font-size="9.44" text-anchor="start" textLength="27.12" lengthAdjust="spacingAndGlyphs" fill="#231f20">PPME1</text>
<text x="314.8" y="330.61" font-size="9.44" text-anchor="start" textLength="34.68" lengthAdjust="spacingAndGlyphs" fill="#231f20">SERINC3</text>
<text x="314.8" y="340.94" font-size="9.44" text-anchor="start" textLength="25.34" lengthAdjust="spacingAndGlyphs" fill="#231f20">SMIM5</text>
<text x="314.8" y="351.27" font-size="9.44" text-anchor="start" textLength="30.68" lengthAdjust="spacingAndGlyphs" fill="#231f20">STXBP2</text>
<text x="314.8" y="361.6" font-size="9.44" text-anchor="start" textLength="37.79" lengthAdjust="spacingAndGlyphs" fill="#231f20">TMEM63B</text>
<text x="314.8" y="371.93" font-size="9.44" text-anchor="start" textLength="31.56" lengthAdjust="spacingAndGlyphs" fill="#231f20">TREML2</text>
<text x="186.52" y="377.2" font-size="9.44" text-anchor="end" textLength="12.45" lengthAdjust="spacingAndGlyphs" transform="rotate(-90 186.52 377.2)" fill="#231f20">Pro</text>
<text x="255.05" y="377.2" font-size="9.44" text-anchor="end" textLength="12.45" lengthAdjust="spacingAndGlyphs" transform="rotate(-90 255.05 377.2)" fill="#231f20">Pro</text>
<text x="199.96" y="377.2" font-size="9.44" text-anchor="end" textLength="23.57" lengthAdjust="spacingAndGlyphs" transform="rotate(-90 199.96 377.2)" fill="#231f20">EBaso</text>
<text x="268.35" y="377.2" font-size="9.44" text-anchor="end" textLength="23.57" lengthAdjust="spacingAndGlyphs" transform="rotate(-90 268.35 377.2)" fill="#231f20">EBaso</text>
<text x="213.4" y="377.2" font-size="9.44" text-anchor="end" textLength="22.68" lengthAdjust="spacingAndGlyphs" transform="rotate(-90 213.4 377.2)" fill="#231f20">LBaso</text>
<text x="281.65" y="377.2" font-size="9.44" text-anchor="end" textLength="22.68" lengthAdjust="spacingAndGlyphs" transform="rotate(-90 281.65 377.2)" fill="#231f20">LBaso</text>
<text x="226.84" y="377.2" font-size="9.44" text-anchor="end" textLength="15.56" lengthAdjust="spacingAndGlyphs" transform="rotate(-90 226.84 377.2)" fill="#231f20">Poly</text>
<text x="294.95" y="377.2" font-size="9.44" text-anchor="end" textLength="15.56" lengthAdjust="spacingAndGlyphs" transform="rotate(-90 294.95 377.2)" fill="#231f20">Poly</text>
<text x="240.28" y="377.2" font-size="9.44" text-anchor="end" textLength="20.01" lengthAdjust="spacingAndGlyphs" transform="rotate(-90 240.28 377.2)" fill="#231f20">Ortho</text>
<text x="308.25" y="377.2" font-size="9.44" text-anchor="end" textLength="20.01" lengthAdjust="spacingAndGlyphs" transform="rotate(-90 308.25 377.2)" fill="#231f20">Ortho</text>
<text x="361.8" y="223" font-size="11.66" text-anchor="start" textLength="7.34" lengthAdjust="spacingAndGlyphs" font-weight="bold" fill="#000">E</text>
<text x="453.5" y="223.6" font-size="11.56" text-anchor="middle" textLength="45.21" lengthAdjust="spacingAndGlyphs" fill="#231f20">KLHDC8B</text>
<line x1="393.7" y1="228.8" x2="393.7" y2="374.5" stroke="#000" stroke-width="1"/>
<line x1="390.7" y1="374" x2="393.7" y2="374" stroke="#000" stroke-width="1"/>
<text x="387.1" y="376.8" font-size="9.32" text-anchor="end" textLength="4.39" lengthAdjust="spacingAndGlyphs" fill="#231f20">0</text>
<line x1="390.7" y1="350.25" x2="393.7" y2="350.25" stroke="#000" stroke-width="1"/>
<text x="387.1" y="353.05" font-size="9.32" text-anchor="end" textLength="13.18" lengthAdjust="spacingAndGlyphs" fill="#231f20">100</text>
<line x1="390.7" y1="326.5" x2="393.7" y2="326.5" stroke="#000" stroke-width="1"/>
<text x="387.1" y="329.3" font-size="9.32" text-anchor="end" textLength="13.18" lengthAdjust="spacingAndGlyphs" fill="#231f20">200</text>
<line x1="390.7" y1="302.75" x2="393.7" y2="302.75" stroke="#000" stroke-width="1"/>
<text x="387.1" y="305.55" font-size="9.32" text-anchor="end" textLength="13.18" lengthAdjust="spacingAndGlyphs" fill="#231f20">300</text>
<line x1="390.7" y1="279" x2="393.7" y2="279" stroke="#000" stroke-width="1"/>
<text x="387.1" y="281.8" font-size="9.32" text-anchor="end" textLength="13.18" lengthAdjust="spacingAndGlyphs" fill="#231f20">400</text>
<line x1="390.7" y1="255.25" x2="393.7" y2="255.25" stroke="#000" stroke-width="1"/>
<text x="387.1" y="258.05" font-size="9.32" text-anchor="end" textLength="13.18" lengthAdjust="spacingAndGlyphs" fill="#231f20">500</text>
<line x1="390.7" y1="231.5" x2="393.7" y2="231.5" stroke="#000" stroke-width="1"/>
<text x="387.1" y="234.3" font-size="9.32" text-anchor="end" textLength="13.18" lengthAdjust="spacingAndGlyphs" fill="#231f20">600</text>
<line x1="393.2" y1="374" x2="512.9" y2="374" stroke="#000" stroke-width="1"/>
<line x1="393.7" y1="374" x2="393.7" y2="377" stroke="#000" stroke-width="1"/>
<line x1="416.88" y1="374" x2="416.88" y2="377" stroke="#000" stroke-width="1"/>
<line x1="440.06" y1="374" x2="440.06" y2="377" stroke="#000" stroke-width="1"/>
<line x1="463.24" y1="374" x2="463.24" y2="377" stroke="#000" stroke-width="1"/>
<line x1="486.42" y1="374" x2="486.42" y2="377" stroke="#000" stroke-width="1"/>
<line x1="509.6" y1="374" x2="509.6" y2="377" stroke="#000" stroke-width="1"/>
<rect x="395.35" y="359.14" width="9.7" height="14.86" fill="#2c4a88" stroke="#1e3364" stroke-width="0.5"/>
<rect x="405.55" y="364.06" width="9.7" height="9.94" fill="#ae0630" stroke="#860522" stroke-width="0.5"/>
<rect x="418.6" y="362.16" width="9.7" height="11.84" fill="#2c4a88" stroke="#1e3364" stroke-width="0.5"/>
<rect x="428.8" y="364.94" width="9.7" height="9.06" fill="#ae0630" stroke="#860522" stroke-width="0.5"/>
<rect x="441.85" y="357.06" width="9.7" height="16.95" fill="#2c4a88" stroke="#1e3364" stroke-width="0.5"/>
<rect x="452.05" y="359.14" width="9.7" height="14.86" fill="#ae0630" stroke="#860522" stroke-width="0.5"/>
<rect x="465.1" y="331.05" width="9.7" height="42.95" fill="#2c4a88" stroke="#1e3364" stroke-width="0.5"/>
<rect x="475.3" y="340.95" width="9.7" height="33.05" fill="#ae0630" stroke="#860522" stroke-width="0.5"/>
<rect x="488.35" y="255.55" width="9.7" height="118.45" fill="#2c4a88" stroke="#1e3364" stroke-width="0.5"/>
<rect x="498.55" y="329.84" width="9.7" height="44.16" fill="#ae0630" stroke="#860522" stroke-width="0.5"/>
<circle cx="400.2" cy="356.8" r="2.9" fill="#70b04c" stroke="#4a8a34" stroke-width="0.9"/>
<circle cx="400.2" cy="361.9" r="2.9" fill="#70b04c" stroke="#4a8a34" stroke-width="0.9"/>
<circle cx="410.4" cy="362.4" r="2.9" fill="#70b04c" stroke="#4a8a34" stroke-width="0.9"/>
<circle cx="410.4" cy="364" r="2.9" fill="#70b04c" stroke="#4a8a34" stroke-width="0.9"/>
<circle cx="423.45" cy="357.8" r="2.9" fill="#70b04c" stroke="#4a8a34" stroke-width="0.9"/>
<circle cx="423.45" cy="366.1" r="2.9" fill="#70b04c" stroke="#4a8a34" stroke-width="0.9"/>
<circle cx="433.65" cy="361.2" r="2.9" fill="#70b04c" stroke="#4a8a34" stroke-width="0.9"/>
<circle cx="433.65" cy="367.7" r="2.9" fill="#70b04c" stroke="#4a8a34" stroke-width="0.9"/>
<circle cx="446.7" cy="354.3" r="2.9" fill="#70b04c" stroke="#4a8a34" stroke-width="0.9"/>
<circle cx="446.7" cy="359.6" r="2.9" fill="#70b04c" stroke="#4a8a34" stroke-width="0.9"/>
<circle cx="456.9" cy="356.6" r="2.9" fill="#70b04c" stroke="#4a8a34" stroke-width="0.9"/>
<circle cx="456.9" cy="361.9" r="2.9" fill="#70b04c" stroke="#4a8a34" stroke-width="0.9"/>
<circle cx="469.95" cy="320.4" r="2.9" fill="#70b04c" stroke="#4a8a34" stroke-width="0.9"/>
<circle cx="469.95" cy="341.2" r="2.9" fill="#70b04c" stroke="#4a8a34" stroke-width="0.9"/>
<circle cx="480.15" cy="340.2" r="2.9" fill="#70b04c" stroke="#4a8a34" stroke-width="0.9"/>
<circle cx="480.15" cy="341" r="2.9" fill="#70b04c" stroke="#4a8a34" stroke-width="0.9"/>
<circle cx="493.2" cy="240.8" r="2.9" fill="#70b04c" stroke="#4a8a34" stroke-width="0.9"/>
<circle cx="493.2" cy="270" r="2.9" fill="#70b04c" stroke="#4a8a34" stroke-width="0.9"/>
<circle cx="503.4" cy="326.6" r="2.9" fill="#70b04c" stroke="#4a8a34" stroke-width="0.9"/>
<circle cx="503.4" cy="333.1" r="2.9" fill="#70b04c" stroke="#4a8a34" stroke-width="0.9"/>
<rect x="397.6" y="230.6" width="5.2" height="5.2" fill="#2c4a88"/>
<text x="404.9" y="236.3" font-size="8.1" text-anchor="start" textLength="60.86" lengthAdjust="spacingAndGlyphs" fill="#231f20">Luciferase-shRNA</text>
<rect x="397.6" y="241.9" width="5.2" height="5.2" fill="#ae0630"/>
<text x="404.9" y="247.6" font-size="8.1" text-anchor="start" textLength="48.76" lengthAdjust="spacingAndGlyphs" fill="#231f20">TET3-shRNA1</text>
<text x="367.8" y="301.3" font-size="9.68" text-anchor="middle" textLength="22.78" lengthAdjust="spacingAndGlyphs" transform="rotate(-90 367.8 301.3)" fill="#231f20">FPKM</text>
<text x="408.09" y="385.8" font-size="9.2" text-anchor="end" textLength="12.14" lengthAdjust="spacingAndGlyphs" transform="rotate(-45 408.09 385.8)" fill="#231f20">Pro</text>
<text x="431.27" y="385.8" font-size="9.2" text-anchor="end" textLength="22.98" lengthAdjust="spacingAndGlyphs" transform="rotate(-45 431.27 385.8)" fill="#231f20">EBaso</text>
<text x="454.45" y="385.8" font-size="9.2" text-anchor="end" textLength="22.12" lengthAdjust="spacingAndGlyphs" transform="rotate(-45 454.45 385.8)" fill="#231f20">LBaso</text>
<text x="477.63" y="385.8" font-size="9.2" text-anchor="end" textLength="15.17" lengthAdjust="spacingAndGlyphs" transform="rotate(-45 477.63 385.8)" fill="#231f20">Poly</text>
<text x="500.81" y="385.8" font-size="9.2" text-anchor="end" textLength="19.51" lengthAdjust="spacingAndGlyphs" transform="rotate(-45 500.81 385.8)" fill="#231f20">Ortho</text>
<rect x="0.6" y="0.6" width="518.8" height="409.8" fill="none" stroke="#000" stroke-width="1.2"/>
</svg></body></html>
